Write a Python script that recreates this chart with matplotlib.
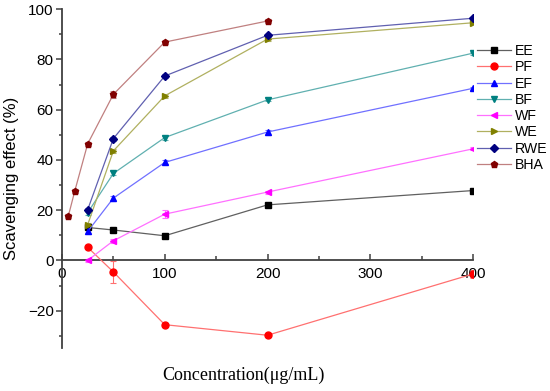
import matplotlib
matplotlib.use("Agg")
import matplotlib.pyplot as plt
from matplotlib.ticker import MultipleLocator

conc = [25, 50, 100, 200, 400]
conc_bha = [6.25, 12.5, 25, 50, 100, 200]

EE = [13.1, 12.1, 9.8, 22.1, 27.8]
PF = [5.2, -4.6, -25.6, -29.8, -5.4]
EF = [11.5, 24.8, 39.0, 51.1, 68.5]
BF = [19.0, 34.6, 48.9, 63.9, 82.5]
WF = [0.0, 7.8, 18.4, 27.2, 44.4]
WE = [14.2, 43.6, 65.5, 88.1, 94.6]
RWE = [20.2, 48.5, 73.4, 89.6, 96.4]
BHA = [17.8, 27.7, 46.4, 66.1, 86.9, 95.3]

EE_err = [0.5, 0.5, 0.5, 0.8, 0.6]
PF_err = [0.8, 4.3, 0.8, 0.6, 1.5]
EF_err = [1.0, 1.0, 0.8, 1.0, 0.6]
BF_err = [0.8, 0.8, 0.8, 0.6, 0.6]
WF_err = [0.5, 0.8, 1.5, 0.6, 0.6]
WE_err = [0.8, 0.8, 0.8, 0.8, 0.6]
RWE_err = [0.8, 0.8, 0.8, 0.6, 0.5]
BHA_err = [0.8, 0.8, 0.8, 1.5, 0.6, 0.6]

series = [
    ("EE", conc, EE, EE_err, "s", "#000000", "#606060"),
    ("PF", conc, PF, PF_err, "o", "#ff0000", "#ff7070"),
    ("EF", conc, EF, EF_err, "^", "#0000ff", "#7070ff"),
    ("BF", conc, BF, BF_err, "v", "#008080", "#60b0b0"),
    ("WF", conc, WF, WF_err, "<", "#ff00ff", "#ff70ff"),
    ("WE", conc, WE, WE_err, ">", "#808000", "#b0b060"),
    ("RWE", conc, RWE, RWE_err, "D", "#000080", "#6060b0"),
    ("BHA", conc_bha, BHA, BHA_err, "p", "#800000", "#c08080"),
]

plt.rcParams['font.family'] = ['Liberation Sans', 'DejaVu Sans']

fig = plt.figure(figsize=(5.5, 3.91), dpi=100)
ax = fig.add_axes([62/550, 1-348.3/391, (473-62)/550, (348.3-9.2)/391])

handles = []
for name, x, y, e, m, mc, lc in series:
    ms = 5 if m != "D" else 4
    ax.errorbar(x, y, yerr=e, fmt='none', ecolor=lc, elinewidth=0.8, capsize=2, capthick=0.8, zorder=2)
    h, = ax.plot(x, y, color=lc, lw=0.9, marker=m, markersize=ms,
                 markerfacecolor=mc, markeredgecolor=mc, label=name, zorder=3)
    handles.append(h)

ax.set_xlim(0, 400)
ax.set_ylim(-35, 100)
ax.spines['top'].set_visible(False)
ax.spines['right'].set_visible(False)
ax.spines['bottom'].set_position(('data', 0))
for s in ['left', 'bottom']:
    ax.spines[s].set_color('#404040')
    ax.spines[s].set_linewidth(1.3)

ax.xaxis.set_major_locator(MultipleLocator(100))
ax.xaxis.set_minor_locator(MultipleLocator(50))
ax.yaxis.set_major_locator(MultipleLocator(20))
ax.yaxis.set_minor_locator(MultipleLocator(10))
ax.tick_params(axis='x', which='major', direction='in', length=4, width=1.1, color='#404040', labelsize=11, pad=5)
ax.tick_params(axis='x', which='minor', direction='in', length=3, width=1.1, color='#404040')
ax.tick_params(axis='y', which='major', direction='out', length=4, width=1.1, color='#404040', labelsize=11, pad=2)
ax.tick_params(axis='y', which='minor', direction='out', length=2, width=1.1, color='#404040')

ax.set_ylabel("Scavenging effect (%)", fontsize=12, labelpad=6)
fig.text(243/550, 1-375/391, "Concentration(\u03bcg/mL)", ha='center', va='center',
         fontsize=13, family=['Liberation Serif', 'DejaVu Serif'])

fig.legend(handles=handles, loc='upper left', bbox_to_anchor=(477/550, 1-44/391),
           frameon=False, fontsize=10.2, handlelength=2.4, handletextpad=0.25,
           labelspacing=0.16, borderaxespad=0, borderpad=0)

fig.savefig("out.png", dpi=100)
